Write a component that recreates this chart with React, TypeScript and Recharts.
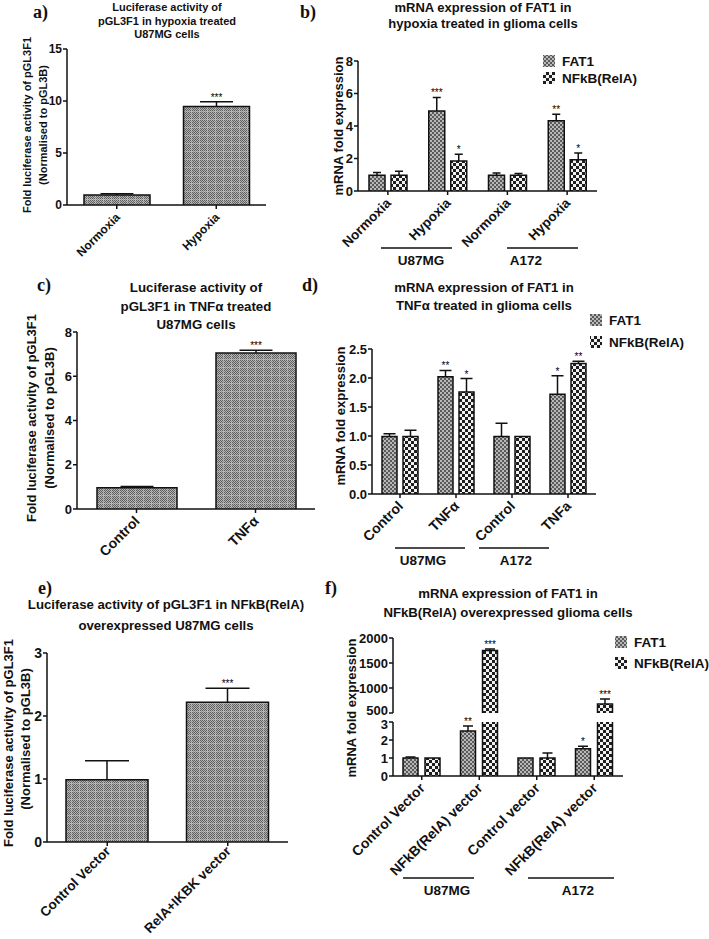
import React from 'react';
import { BarChart, Bar, XAxis, YAxis } from 'recharts';

// ---- data ----
const seriesNames = ['FAT1', 'NFkB(RelA)'];
const cellLines = ['U87MG', 'A172'];

// a) luciferase, hypoxia
const aCategories = ['Normoxia', 'Hypoxia'];
const aValues = [0.97, 9.48];
const aErrors = [0.1, 0.45];
const aStars = ['', '***'];

// b) mRNA, hypoxia
const bCategories = ['Normoxia', 'Hypoxia', 'Normoxia', 'Hypoxia'];
const bFat1 = [0.97, 4.92, 0.97, 4.32];
const bFat1Err = [0.17, 0.84, 0.14, 0.41];
const bFat1Stars = ['', '***', '', '**'];
const bRela = [0.97, 1.85, 0.97, 1.93];
const bRelaErr = [0.24, 0.41, 0.1, 0.41];
const bRelaStars = ['', '*', '', '*'];

// c) luciferase, TNFa
const cCategories = ['Control', 'TNFα'];
const cValues = [0.96, 7.05];
const cErrors = [0.06, 0.12];
const cStars = ['', '***'];

// d) mRNA, TNFa
const dCategories = ['Control', 'TNFα', 'Control', 'TNFa'];
const dFat1 = [0.99, 2.02, 0.99, 1.72];
const dFat1Err = [0.05, 0.11, 0.23, 0.32];
const dFat1Stars = ['', '**', '', '*'];
const dRela = [0.99, 1.76, 0.99, 2.25];
const dRelaErr = [0.11, 0.23, 0, 0.04];
const dRelaStars = ['', '*', '', '**'];

// e) luciferase, RelA overexpression
const eCategories = ['Control Vector', 'RelA+IKBK vector'];
const eValues = [0.99, 2.22];
const eErrors = [0.3, 0.22];
const eStars = ['', '***'];

// f) mRNA, RelA overexpression (broken axis at 3 / 500)
const fCategories = ['Control Vector', 'NFkB(RelA) vector', 'Control vector', 'NFkB(RelA) vector'];
const fFat1 = [1.0, 2.5, 1.0, 1.52];
const fFat1Err = [0.06, 0.28, 0, 0.13];
const fFat1Stars = ['', '**', '', '*'];
const fRela = [1.0, 1750, 1.0, 680];
const fRelaErr = [0, 28, 0.28, 100];
const fRelaStars = ['', '***', '', '***'];
const fBreakLow = 3;
const fBreakHigh = 500;

// ---- styling ----
const FONT = '"Liberation Sans", Arial, Helvetica, sans-serif';
const SERIF = '"Liberation Serif", "Times New Roman", serif';
const INK = '#111';
const FINE = 'url(#finePat)';
const FAT1_FILL = 'url(#fat1Pat)';
const RELA_FILL = 'url(#relaPat)';
const seriesFills = [FAT1_FILL, RELA_FILL];

type Box = { left: number; top: number; width: number; height: number };
type Plot = { x: number; y: number; w: number; h: number };

const margins = (box: Box, plot: Plot, yw: number, xh: number) => ({
  top: plot.y - box.top,
  left: plot.x - box.left - yw,
  right: box.left + box.width - (plot.x + plot.w),
  bottom: box.top + box.height - (plot.y + plot.h) - xh,
});

type ShapeOpts = {
  valueKey: string;
  errKey: string;
  starKey: string;
  cutKey?: string;
  fill: string;
  cap: number;
  base?: number;
};

// bar + upward SD whisker + significance stars
const barShape = (o: ShapeOpts) => (props: any) => {
  const { x, y, width, height, payload } = props;
  const v = payload[o.valueKey];
  if (v == null || !isFinite(y)) return null;
  const base = o.base ?? 0;
  const bottom = y + height;
  const pxPerUnit = Math.abs(height) / Math.max(v - base, 1e-6);
  const cut = o.cutKey ? !!payload[o.cutKey] : false;
  const err = payload[o.errKey] || 0;
  const eTop = y - err * pxPerUnit;
  const cx = x + width / 2;
  const star = payload[o.starKey];
  return (
    <g>
      <rect x={x} y={y} width={width} height={bottom - y} fill={o.fill} />
      <path
        d={cut
          ? `M${x},${bottom} V${y} M${x + width},${y} V${bottom}`
          : `M${x},${bottom} V${y} H${x + width} V${bottom}`}
        fill="none" stroke={INK} strokeWidth={1.5}
      />
      {!cut && err > 0 && (
        <path d={`M${cx},${y} V${eTop} M${cx - o.cap / 2},${eTop} H${cx + o.cap / 2}`}
          fill="none" stroke={INK} strokeWidth={1.5} />
      )}
      {!cut && star ? (
        <text x={cx} y={eTop - 1} textAnchor="middle" fontFamily={FONT}
          fontSize={10} fill="#000">{star}</text>
      ) : null}
    </g>
  );
};

const slantTick = (size: number, dx = 4, dy = 7) => (props: any) => {
  const { x, y, payload } = props;
  const ax = x + dx;
  const ay = y + dy;
  return (
    <text x={ax} y={ay} transform={`rotate(-45 ${ax} ${ay})`} textAnchor="end"
      fontFamily={FONT} fontWeight="bold" fontSize={size} fill={INK}>{payload.value}</text>
  );
};

// y tick; the tick sitting on the axis break gets nudged so both labels stay readable
const numTick = (size: number, fmt?: (v: number) => string, nudgeAt?: number, nudge = 0) => (props: any) => {
  const { x, y, payload } = props;
  const v = payload.value;
  const dy = nudgeAt != null && v === nudgeAt ? nudge : 0;
  return (
    <text x={x} y={y + dy} dy="0.355em" textAnchor="end" fontFamily={FONT} fontWeight="bold"
      fontSize={size} fill={INK}>{fmt ? fmt(v) : v}</text>
  );
};

const axisLine = { stroke: INK, strokeWidth: 1.5 };

const singleTable = (cats: string[], vals: number[], errs: number[], stars: string[]) =>
  cats.map((name, i) => ({ name, value: vals[i], err: errs[i], star: stars[i] }));

const pairTable = (cats: string[], f: number[], fe: number[], fs: string[], r: number[], re: number[], rs: string[]) =>
  cats.map((name, i) => ({ name, fat1: f[i], fat1Err: fe[i], fat1Star: fs[i], rela: r[i], relaErr: re[i], relaStar: rs[i] }));

type SingleProps = {
  box: Box; plot: Plot; data: any[]; domain: [number, number]; ticks: number[];
  barSize: number; cap: number; yFont: number; xFont: number; yw: number; tickDy?: number;
};

const SinglePanel = ({ box, plot, data, domain, ticks, barSize, cap, yFont, xFont, yw, tickDy }: SingleProps) => (
  <div style={{ position: 'absolute', left: box.left, top: box.top }}>
    <BarChart width={box.width} height={box.height} data={data} margin={margins(box, plot, yw, 30)}>
      <XAxis dataKey="name" interval={0} height={30} tickSize={4} tickLine={axisLine} axisLine={axisLine}
        tick={slantTick(xFont, 4, tickDy ?? 7)} />
      <YAxis type="number" domain={domain} ticks={ticks} interval={0} width={yw} tickSize={4} tickMargin={1}
        tickLine={axisLine} axisLine={axisLine} tick={numTick(yFont)} />
      <Bar dataKey="value" barSize={barSize} isAnimationActive={false}
        shape={barShape({ valueKey: 'value', errKey: 'err', starKey: 'star', fill: FINE, cap })} />
    </BarChart>
  </div>
);

type PairProps = {
  box: Box; plot: Plot; data: any[]; domain: [number, number]; ticks: number[];
  barSize: number; gap: number; cap: number; yFont: number; xFont: number; yw: number;
  fmt?: (v: number) => string; hideX?: boolean; base?: number; nudgeAt?: number; nudge?: number;
};

const PairPanel = ({ box, plot, data, domain, ticks, barSize, gap, cap, yFont, xFont, yw, fmt, hideX, base, nudgeAt, nudge }: PairProps) => (
  <div style={{ position: 'absolute', left: box.left, top: box.top }}>
    <BarChart width={box.width} height={box.height} data={data} barGap={gap}
      margin={margins(box, plot, yw, hideX ? 0 : 30)}>
      <XAxis dataKey="name" interval={0} height={30} hide={hideX} tickSize={4} tickLine={axisLine}
        axisLine={axisLine} tick={slantTick(xFont)} />
      <YAxis type="number" domain={domain} ticks={ticks} interval={0} width={yw} tickSize={4} tickMargin={1}
        tickLine={axisLine} axisLine={axisLine} tick={numTick(yFont, fmt, nudgeAt, nudge)} />
      <Bar dataKey="fat1" name={seriesNames[0]} barSize={barSize} isAnimationActive={false}
        shape={barShape({ valueKey: 'fat1', errKey: 'fat1Err', starKey: 'fat1Star', cutKey: 'fat1Cut', fill: FAT1_FILL, cap, base })} />
      <Bar dataKey="rela" name={seriesNames[1]} barSize={barSize} isAnimationActive={false}
        shape={barShape({ valueKey: 'rela', errKey: 'relaErr', starKey: 'relaStar', cutKey: 'relaCut', fill: RELA_FILL, cap, base })} />
    </BarChart>
  </div>
);

const Patterns = () => (
  <svg width={0} height={0} style={{ position: 'absolute' }}>
    <defs>
      <pattern id="chk1" width={2} height={2} patternUnits="userSpaceOnUse">
        <rect width={2} height={2} fill="#b4b4b4" />
        <rect width={1} height={1} fill="#5e5e5e" />
        <rect x={1} y={1} width={1} height={1} fill="#5e5e5e" />
      </pattern>
      <pattern id="finePat" width={8} height={8} patternUnits="userSpaceOnUse">
        <rect width={8} height={8} fill="url(#chk1)" />
        <rect x={7} width={1} height={8} fill="#c4c4c4" opacity={0.55} />
        <rect y={7} width={8} height={1} fill="#c4c4c4" opacity={0.55} />
      </pattern>
      <pattern id="fat1Pat" width={4} height={4} patternUnits="userSpaceOnUse">
        <rect width={4} height={4} fill="#b8b8b8" />
        <rect width={2} height={2} fill="#5a5a5a" />
        <rect x={2} y={2} width={2} height={2} fill="#5a5a5a" />
      </pattern>
      <pattern id="relaPat" width={6} height={6} patternUnits="userSpaceOnUse">
        <rect width={6} height={6} fill="#f2f2f2" />
        <rect width={3} height={3} fill="#1e1e1e" />
        <rect x={3} y={3} width={3} height={3} fill="#1e1e1e" />
      </pattern>
    </defs>
  </svg>
);

// page-level texts: panel letters, titles, y titles, legends, cell-line brackets
const panelLetters: [string, number, number][] = [
  ['a)', 33, 18], ['b)', 300, 18], ['c)', 37, 291], ['d)', 302, 291], ['e)', 38, 594], ['f)', 325, 594],
];
const titles: { cx: number; ys: number[]; size: number; lines: string[] }[] = [
  { cx: 167, ys: [11, 24.5, 38], size: 11, lines: ['Luciferase activity of', 'pGL3F1 in hypoxia treated', 'U87MG cells'] },
  { cx: 483, ys: [11.5, 28], size: 13, lines: ['mRNA expression of FAT1 in', 'hypoxia treated in glioma cells'] },
  { cx: 196, ys: [292, 311, 329], size: 13.3, lines: ['Luciferase activity of', 'pGL3F1 in TNFα treated', 'U87MG cells'] },
  { cx: 484, ys: [292, 310], size: 13.2, lines: ['mRNA expression of FAT1 in', 'TNFα treated in glioma cells'] },
  { cx: 166, ys: [609, 630], size: 13.2, lines: ['Luciferase activity of pGL3F1 in NFkB(RelA)', 'overexpressed U87MG cells'] },
  { cx: 508, ys: [598, 617], size: 13.2, lines: ['mRNA expression of FAT1 in', 'NFkB(RelA) overexpressed glioma cells'] },
];
const yTitles: [string, number, number, number][] = [
  ['Fold luciferase activity of pGL3F1', 31, 125, 11],
  ['(Normalised to pGL3B)', 46.5, 125, 11],
  ['mRNA fold expression', 343, 126, 13],
  ['Fold luciferase activity of pGL3F1', 36, 418, 13],
  ['(Normalised to pGL3B)', 53.5, 418, 13],
  ['mRNA fold expression', 345, 416, 13],
  ['Fold luciferase activity of pGL3F1', 13, 743, 13],
  ['(Normalised to pGL3B)', 30, 739, 13],
  ['mRNA fold expression', 356, 708, 13],
];
const legends: { x: number; rows: number[] }[] = [
  { x: 543, rows: [61, 78] },
  { x: 590, rows: [320, 342] },
  { x: 615, rows: [642, 663] },
];
const brackets: { y: number; spans: [number, number, number][] }[] = [
  { y: 248, spans: [[381, 452, 421], [507, 578, 526]] },
  { y: 548, spans: [[395, 465, 423], [479, 549, 516]] },
  { y: 878, spans: [[403, 474, 447], [528, 614, 578]] },
];

const Overlay = () => (
  <svg width={709} height={939} style={{ position: 'absolute', left: 0, top: 0, pointerEvents: 'none' }}>
    {panelLetters.map(([t, x, y]) => (
      <text key={t} x={x} y={y} fontFamily={SERIF} fontWeight="bold" fontSize={18} fill={INK}>{t}</text>
    ))}
    {titles.map((t, i) => (
      <text key={i} textAnchor="middle" fontFamily={FONT} fontWeight="bold" fontSize={t.size} fill={INK}>
        {t.lines.map((l, j) => <tspan key={j} x={t.cx} y={t.ys[j]}>{l}</tspan>)}
      </text>
    ))}
    {yTitles.map(([t, x, y, s], i) => (
      <text key={i} x={x} y={y} transform={`rotate(-90 ${x} ${y})`} textAnchor="middle"
        fontFamily={FONT} fontWeight="bold" fontSize={s} fill={INK}>{t}</text>
    ))}
    {legends.map((lg, i) => (
      <g key={i}>
        {lg.rows.map((cy, j) => (
          <g key={j}>
            <rect x={lg.x} y={cy - 6} width={12} height={12} fill={seriesFills[j]} />
            <text x={lg.x + 19} y={cy + 5} fontFamily={FONT} fontWeight="bold" fontSize={13.5} fill={INK}>{seriesNames[j]}</text>
          </g>
        ))}
      </g>
    ))}
    {brackets.map((b, i) => (
      <g key={i}>
        {b.spans.map(([x1, x2, cx], j) => (
          <g key={j}>
            <line x1={x1} x2={x2} y1={b.y} y2={b.y} stroke={INK} strokeWidth={1.5} />
            <text x={cx} y={b.y + 17} textAnchor="middle" fontFamily={FONT} fontWeight="bold" fontSize={13.5} fill={INK}>{cellLines[j]}</text>
          </g>
        ))}
      </g>
    ))}
  </svg>
);

export default function App() {
  const aData = singleTable(aCategories, aValues, aErrors, aStars);
  const cData = singleTable(cCategories, cValues, cErrors, cStars);
  const eData = singleTable(eCategories, eValues, eErrors, eStars);
  const bData = pairTable(bCategories, bFat1, bFat1Err, bFat1Stars, bRela, bRelaErr, bRelaStars);
  const dData = pairTable(dCategories, dFat1, dFat1Err, dFat1Stars, dRela, dRelaErr, dRelaStars);
  const fData = pairTable(fCategories, fFat1, fFat1Err, fFat1Stars, fRela, fRelaErr, fRelaStars);
  // broken axis: lower segment holds values up to the break (taller bars are cut),
  // upper segment only carries the values above it
  const fLower = fData.map((d) => ({
    ...d,
    fat1: Math.min(d.fat1, fBreakLow), fat1Cut: d.fat1 > fBreakLow,
    rela: Math.min(d.rela, fBreakLow), relaCut: d.rela > fBreakLow,
  }));
  const fUpper = fData.map((d) => ({
    ...d,
    fat1: d.fat1 > fBreakLow ? d.fat1 : null,
    rela: d.rela > fBreakLow ? d.rela : null,
  }));

  return (
    <div style={{ position: 'absolute', left: 0, top: 0, width: 709, height: 939, background: '#fff', overflow: 'hidden' }}>
      <Patterns />
      <SinglePanel box={{ left: 0, top: 40, width: 290, height: 260 }} plot={{ x: 67, y: 49, w: 199, h: 156 }}
        data={aData} domain={[0, 15]} ticks={[0, 5, 10, 15]} barSize={66} cap={33} yFont={12} xFont={12} yw={36} />
      <PairPanel box={{ left: 300, top: 40, width: 400, height: 240 }} plot={{ x: 358, y: 61, w: 239, h: 130 }}
        data={bData} domain={[0, 8]} ticks={[0, 2, 4, 6, 8]} barSize={16} gap={6} cap={8} yFont={13} xFont={13.5} yw={30} />
      <SinglePanel box={{ left: 0, top: 320, width: 330, height: 280 }} plot={{ x: 77, y: 332, w: 238, h: 177 }}
        data={cData} domain={[0, 8]} ticks={[0, 2, 4, 6, 8]} barSize={80} cap={33} yFont={13} xFont={14} yw={30} />
      <PairPanel box={{ left: 300, top: 330, width: 400, height: 270 }} plot={{ x: 372, y: 349, w: 224, h: 145 }}
        data={dData} domain={[0, 2.5]} ticks={[0, 0.5, 1, 1.5, 2, 2.5]} barSize={15} gap={6} cap={12}
        yFont={13} xFont={14} yw={30} fmt={(v) => v.toFixed(1)} />
      <SinglePanel box={{ left: 0, top: 640, width: 300, height: 299 }} plot={{ x: 47, y: 653, w: 241, h: 189 }}
        data={eData} domain={[0, 3]} ticks={[0, 1, 2, 3]} barSize={82} cap={44} yFont={14} xFont={13.5} yw={28} tickDy={4} />
      <PairPanel box={{ left: 330, top: 630, width: 370, height: 90 }} plot={{ x: 393, y: 638, w: 230, h: 75 }}
        data={fUpper} domain={[fBreakHigh, 2000]} ticks={[500, 1000, 1500, 2000]} barSize={15} gap={7} cap={10}
        yFont={13} xFont={14} yw={40} hideX base={fBreakHigh} nudgeAt={fBreakHigh} nudge={-3} />
      <PairPanel box={{ left: 330, top: 715, width: 370, height: 220 }} plot={{ x: 393, y: 722, w: 230, h: 54 }}
        data={fLower} domain={[0, fBreakLow]} ticks={[0, 1, 2, 3]} barSize={15} gap={7} cap={10}
        yFont={13} xFont={14} yw={40} nudgeAt={fBreakLow} nudge={2} />
      <Overlay />
    </div>
  );
}
